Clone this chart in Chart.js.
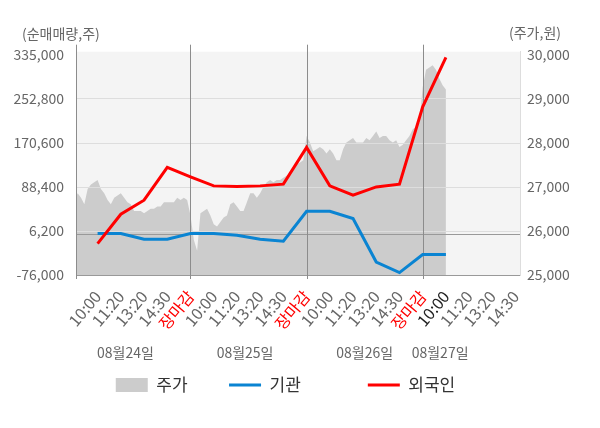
<!DOCTYPE html>
<html>
<head>
<meta charset="utf-8">
<script src="https://cdn.jsdelivr.net/npm/chart.js@4"></script>
<style>
html, body { margin: 0; padding: 0; background: #fff; }
#wrap { width: 600px; height: 428px; }
</style>
</head>
<body>
<div id="wrap"><canvas id="chart"></canvas></div>
<script>
// x tick labels, one per slot (slot i sits at x = i + 1)
const timeLabels = ['10:00', '11:20', '13:20', '14:30', '장마감',
                    '10:00', '11:20', '13:20', '14:30', '장마감',
                    '10:00', '11:20', '13:20', '14:30', '장마감',
                    '10:00', '11:20', '13:20', '14:30'];
const dateLabels = ['08월24일', '08월25일', '08월26일', '08월27일'];
const datePos = [2.2, 7.35, 12.5, 15.75];

// net buying volume (shares), one value per slot
const institution = [1200, 1200, -9500, -9500, 1200, 1200, -2000, -9500, -13200,
                     42700, 42700, 29100, -51800, -71500, -38000, -38000];
const foreign = [-17500, 37100, 63200, 124200, 106700, 89900, 88800, 89900, 93100,
                 161500, 89900, 72500, 88000, 93100, 237100, 329200];

// intraday price (won), 35 samples per session
const dayStart = [0, 5, 10, 15];
const samplesPerDay = 35;
const priceDay1 = [26700, 26850, 26750, 26600, 26950, 27050, 27100, 27150, 26950, 26850,
                   26700, 26600, 26750, 26800, 26850, 26750, 26650, 26600, 26450, 26450,
                   26450, 26400, 26450, 26500, 26500, 26550, 26550, 26650, 26650, 26650,
                   26650, 26750, 26700, 26750, 26700];
const priceDay2 = [26350, 25800, 25550, 26400, 26450, 26500, 26350, 26150, 26100, 26200,
                   26300, 26350, 26600, 26650, 26550, 26450, 26450, 26650, 26850, 26850,
                   26750, 26850, 27000, 27100, 27150, 27100, 27150, 27150, 27200, 27250,
                   27300, 27400, 27500, 27550, 27600];
const priceDay3 = [28150, 28000, 27800, 27850, 27900, 27850, 27750, 27850, 27750, 27600,
                   27600, 27850, 28000, 28050, 28100, 28000, 28000, 28000, 28100, 28050,
                   28150, 28250, 28100, 28150, 28150, 28050, 28000, 28050, 27900, 27950,
                   28050, 28150, 28300, 28350, 28450];
const priceDay4 = [29250, 29650, 29700, 29750, 29650, 29450, 29300, 29200];

const flowTicks = [-76000, 6200, 88400, 170600, 252800, 335000];
const priceTicks = [25000, 26000, 27000, 28000, 29000, 30000];

const FONT = '"Noto Sans CJK KR", "Noto Sans", sans-serif';

const pricePoints = [];
[priceDay1, priceDay2, priceDay3, priceDay4].forEach((day, d) => {
    day.forEach((p, i) => pricePoints.push({ x: dayStart[d] + i * 5 / samplesPerDay, y: p }));
});
const toSlots = arr => arr.map((v, i) => ({ x: i + 1, y: v }));
const dayBreaks = timeLabels.map((t, i) => t === '장마감' ? i + 1 : null).filter(v => v !== null);

const bgPlugin = {
    id: 'bg',
    beforeDraw(chart) {
        const { ctx, chartArea: a } = chart;
        ctx.save();
        ctx.fillStyle = '#f4f4f4';
        ctx.fillRect(a.left, a.top, a.right - a.left, a.bottom - a.top);
        ctx.restore();
    }
};

// grid lines sit on top of the price area but under the flow lines
const overlayPlugin = {
    id: 'overlay',
    afterDatasetDraw(chart, args) {
        if (args.index !== 0) return;
        const { ctx, chartArea: a, scales: { x, y } } = chart;
        const line = (x1, y1, x2, y2) => {
            ctx.beginPath(); ctx.moveTo(x1, y1); ctx.lineTo(x2, y2); ctx.stroke();
        };
        ctx.save();
        ctx.lineWidth = 1;
        ctx.strokeStyle = '#dddddd';
        flowTicks.slice(1, -1).forEach(v => {
            const py = Math.round(y.getPixelForValue(v)) + 0.5;
            line(a.left, py, a.right, py);
        });
        ctx.strokeStyle = '#999999';
        const p0 = Math.round(y.getPixelForValue(0)) + 0.5;
        line(a.left, p0, a.right, p0);
        const pb = Math.round(a.bottom) + 0.5;
        line(a.left, pb, a.right, pb);
        ctx.strokeStyle = '#8c8c8c';
        [a.left].concat(dayBreaks.map(v => x.getPixelForValue(v))).forEach(px => {
            const rx = Math.round(px) + 0.5;
            line(rx, a.top - 7, rx, a.bottom + 4);
        });
        ctx.restore();
    }
};

const textPlugin = {
    id: 'texts',
    afterDraw(chart) {
        const { ctx, chartArea: a, scales: { x } } = chart;
        ctx.save();
        ctx.font = '14px ' + FONT;
        ctx.fillStyle = '#666';
        ctx.textBaseline = 'middle';
        ctx.textAlign = 'left';
        ctx.fillText('(순매매량,주)', 22, 34);
        ctx.fillText('(주가,원)', 509, 33);
        ctx.textAlign = 'center';
        dateLabels.forEach((t, i) => ctx.fillText(t, x.getPixelForValue(datePos[i]), a.bottom + 78));
        ctx.restore();
    }
};

const tickFont = { family: FONT, size: 14 };

new Chart(document.getElementById('chart'), {
    type: 'line',
    data: {
        datasets: [
            {
                label: '주가',
                data: pricePoints,
                yAxisID: 'y1',
                order: 3,
                fill: 'start',
                backgroundColor: '#cccccc',
                borderColor: '#cccccc',
                borderWidth: 0,
                pointRadius: 0,
                pointStyle: 'rect',
                tension: 0
            },
            {
                label: '기관',
                data: toSlots(institution),
                yAxisID: 'y',
                order: 2,
                borderColor: '#0a84d2',
                backgroundColor: '#0a84d2',
                borderWidth: 3,
                pointRadius: 0,
                pointStyle: 'line',
                tension: 0
            },
            {
                label: '외국인',
                data: toSlots(foreign),
                yAxisID: 'y',
                order: 1,
                borderColor: '#ff0000',
                backgroundColor: '#ff0000',
                borderWidth: 3,
                pointRadius: 0,
                pointStyle: 'line',
                tension: 0
            }
        ]
    },
    options: {
        responsive: true,
        maintainAspectRatio: false,
        animation: false,
        layout: { padding: { top: 51.7, left: 0, right: 29, bottom: 24.5 } },
        plugins: {
            tooltip: { enabled: false },
            legend: {
                position: 'bottom',
                labels: {
                    usePointStyle: true,
                    pointStyleWidth: 32,
                    boxHeight: 14,
                    padding: 41.5,
                    color: '#333',
                    font: { family: FONT, size: 17 },
                    generateLabels(chart) {
                        const items = Chart.defaults.plugins.legend.labels.generateLabels(chart)
                            .sort((a, b) => a.datasetIndex - b.datasetIndex);
                        items[1].text = items[1].text + '\u2003\u2002';
                        return items;
                    }
                }
            }
        },
        scales: {
            x: {
                type: 'linear',
                min: 0.07,
                max: 19.19,
                afterBuildTicks: s => { s.ticks = timeLabels.map((t, i) => ({ value: i + 1 })); },
                afterFit: s => { s.height = 60; },
                grid: { display: false },
                border: { display: false },
                ticks: {
                    autoSkip: false,
                    minRotation: 50,
                    maxRotation: 50,
                    padding: 4,
                    font: { family: FONT, size: 16 },
                    color: c => timeLabels[c.index] === '장마감' ? '#ff0000' : (c.index === 15 ? '#222' : '#666'),
                    callback: (v, i) => timeLabels[i]
                }
            },
            y: {
                position: 'left',
                min: -76000,
                max: 339660,
                afterBuildTicks: s => { s.ticks = flowTicks.map(v => ({ value: v })); },
                afterFit: s => { s.width = 76; },
                grid: { display: false, drawTicks: false },
                border: { display: false },
                ticks: {
                    padding: 12,
                    color: '#666',
                    font: tickFont,
                    callback: v => v.toLocaleString('en-US')
                }
            },
            y1: {
                position: 'right',
                min: 25000,
                max: 30057,
                afterBuildTicks: s => { s.ticks = priceTicks.map(v => ({ value: v })); },
                afterFit: s => { s.width = 51; },
                grid: { display: false, drawTicks: false },
                border: { display: true, color: '#dddddd' },
                ticks: {
                    padding: 7,
                    color: '#666',
                    font: tickFont,
                    callback: v => v.toLocaleString('en-US')
                }
            }
        }
    },
    plugins: [bgPlugin, overlayPlugin, textPlugin]
});
</script>
</body>
</html>
